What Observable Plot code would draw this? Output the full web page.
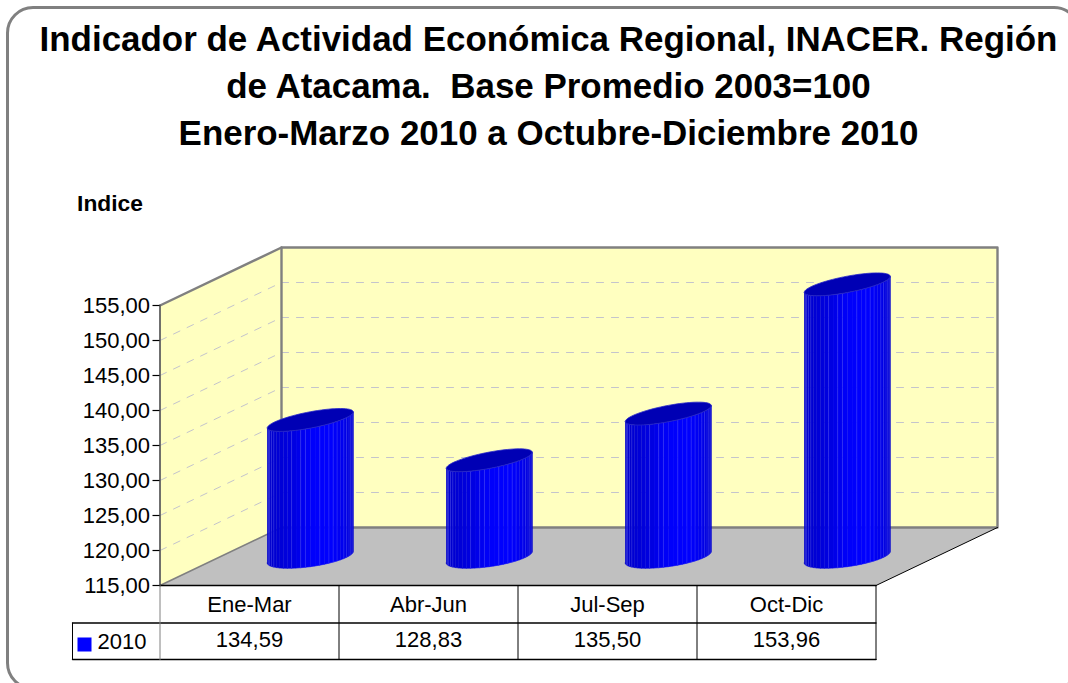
<!DOCTYPE html>
<html>
<head>
<meta charset="utf-8">
<script src="https://cdn.jsdelivr.net/npm/d3@7"></script>
<script src="https://cdn.jsdelivr.net/npm/@observablehq/plot@0.6"></script>
<style>
html,body{margin:0;padding:0;background:#fff;width:1068px;height:683px;overflow:hidden}
body{position:relative;font-family:"Liberation Sans",Arial,sans-serif}
#frame{position:absolute;left:6px;top:6px;width:1075px;height:684px;border:3px solid #808080;border-radius:27px;box-sizing:border-box}
#title{position:relative;height:176px;box-sizing:border-box;padding-top:14.5px;margin:0;width:1097px;text-align:center;font-size:34.95px;line-height:47px;font-weight:bold;color:#000;white-space:pre}
#chart{position:relative;display:block}
svg{display:block}
</style>
</head>
<body>
<div id="frame"></div>
<h1 id="title">Indicador de Actividad Económica Regional, INACER. Región
de Atacama.  Base Promedio 2003=100
Enero-Marzo 2010 a Octubre-Diciembre 2010</h1>
<div id="chart"></div>
<script>
const categories = ["Ene-Mar", "Abr-Jun", "Jul-Sep", "Oct-Dic"];
const values2010 = [134.59, 128.83, 135.50, 153.96];
const seriesName = "2010";
const yTicks = [115, 120, 125, 130, 135, 140, 145, 150, 155];
const gridTicks = [120, 125, 130, 135, 140, 145, 150];
const yAxisTitle = "Indice";

const fmt = v => v.toFixed(2).replace(".", ",");
const yMin = 115, yMax = 155, xMax = categories.length;

// depth of the 3D box and cylinder proportions, in scale units
const depthX = 121.5 / 179, depthY = 58 / 7;
const radiusX = 43 / 179;
const uy = 1 / 7; // one pixel on the y scale
const row1 = yMin - 37.5 * uy, row2 = yMin - 74 * uy;
const legendLeft = -87.5 / 179;

const poly = (pts, o) => Plot.line(pts, {x: d => d[0], y: d => d[1], curve: "linear", stroke: "none", ...o});
const back = ([x, y]) => [x + depthX, y + depthY];

// cylinder surfaces
const N = 28;
function ellipsePoint(i, v, t, top) {
  const cx = i + 0.5 + depthX / 2;
  const cy = v + depthY * 0.49;
  const a = (top ? 8 : 5.8) * uy, b = (top ? 8.2 : 9.6) * uy;
  return [cx + radiusX * Math.cos(t), cy + a * Math.cos(t) + b * Math.sin(t)];
}
function shade(u) { // u = 0 left edge, 1 right edge
  const stops = [[0, 200], [0.12, 212], [0.3, 225], [0.5, 250], [0.72, 255], [0.88, 238], [1, 205]];
  for (let k = 1; k < stops.length; k++) if (u <= stops[k][0]) {
    const f = (u - stops[k-1][0]) / (stops[k][0] - stops[k-1][0]);
    return `rgb(0,0,${Math.round(stops[k-1][1] + f * (stops[k][1] - stops[k-1][1]))})`;
  }
  return "rgb(0,0,205)";
}
const tAt = k => Math.PI + (k / N) * Math.PI;
const stripeIdx = [2, 3, 4, 5, 10, 12, 13, 16, 18, 19, 20, 22, 23, 24, 25, 26];

const cylinderMarks = values2010.flatMap((v, i) => {
  const m = [];
  for (let k = 0; k < N; k++) {
    const t0 = tAt(k), t1 = tAt(k + 1);
    const x0 = ellipsePoint(i, v, t0, true)[0], x1 = ellipsePoint(i, v, t1, true)[0];
    const u = ((x0 + x1) / 2 - (i + 0.5 + depthX / 2 - radiusX)) / (2 * radiusX);
    const c = shade(u);
    m.push(poly([
      ellipsePoint(i, yMin, t0, false), ellipsePoint(i, yMin, t1, false),
      ellipsePoint(i, v, t1, true), ellipsePoint(i, v, t0, true)
    ], {fill: c, stroke: c, strokeWidth: 0.6}));
  }
  for (const k of stripeIdx) {
    m.push(poly([ellipsePoint(i, yMin, tAt(k), false), ellipsePoint(i, v, tAt(k), true)],
      {stroke: "#5a5aff", strokeOpacity: 0.4, strokeWidth: 0.8}));
  }
  const lid = d3.range(0, 73).map(j => ellipsePoint(i, v, j / 72 * 2 * Math.PI, true));
  m.push(poly(lid, {fill: "#0000b4", stroke: "#2a2ac8", strokeWidth: 0.8}));
  return m;
});

const floorPts = [[0, yMin], [xMax, yMin], back([xMax, yMin]), back([0, yMin]), [0, yMin]];
const leftWall = [[0, yMin], back([0, yMin]), back([0, yMax]), [0, yMax], [0, yMin]];
const backWall = [back([0, yMin]), back([xMax, yMin]), back([xMax, yMax]), back([0, yMax]), back([0, yMin])];
const dash = {stroke: "#c4c4cc", strokeWidth: 1, strokeDasharray: "7,8"};
const gray = {stroke: "#808080", strokeWidth: 2.4};
const black = {stroke: "#000", strokeWidth: 1.4};
const txt = {fontSize: 22, fill: "#000", textAnchor: "middle", fontFamily: "Liberation Sans"};
const catIdx = categories.map((_, i) => i);
const tableVerts = d3.range(1, xMax + 1);

const plot = Plot.plot({
  width: 1068,
  height: 507,
  marginLeft: 159.5, marginRight: 192.5,
  marginTop: 129, marginBottom: 98,
  x: {domain: [0, xMax], axis: null},
  y: {domain: [yMin, yMax], axis: null},
  style: {fontFamily: "Liberation Sans", background: "transparent", overflow: "visible"},
  marks: [
    poly(leftWall, {fill: "#ffffc0"}),
    poly(backWall, {fill: "#ffffc0"}),
    ...gridTicks.map(g => poly([[0, g], back([0, g])], dash)),
    ...gridTicks.map(g => poly([back([0, g]), back([xMax, g])], dash)),
    poly(floorPts, {fill: "#c0c0c0"}),
    poly(backWall, gray),
    poly([[0, yMax], back([0, yMax])], gray),
    poly([[0, yMin], back([0, yMin])], {stroke: "#808080", strokeWidth: 1.6}),
    poly([[xMax, yMin], back([xMax, yMin])], {stroke: "#000", strokeWidth: 1}),
    poly([[0, yMin], [0, yMax]], {stroke: "#606060", strokeWidth: 1.8}),
    ...cylinderMarks,
    // table
    poly([[0, yMin], [xMax, yMin]], black),
    poly([[legendLeft, row1], [xMax, row1]], black),
    poly([[legendLeft, row2], [xMax, row2]], black),
    poly([[legendLeft, row1], [legendLeft, row2]], {stroke: "#000", strokeWidth: 1}),
    poly([[0, yMin], [0, row2]], {stroke: "#808080", strokeWidth: 1}),
    ...tableVerts.map(i => poly([[i, yMin], [i, row2]], {stroke: "#000", strokeWidth: 1})),
    Plot.rect([0], {x1: -82 / 179, x2: -68 / 179, y1: yMin - 52.5 * uy, y2: yMin - 66.5 * uy, fill: "#0000ff"}),
    Plot.text(catIdx, {x: i => i + 0.5, y: () => (yMin + row1) / 2 - 0.1, text: i => categories[i], ...txt}),
    Plot.text(catIdx, {x: i => i + 0.5, y: () => (row1 + row2) / 2 + 0.15, text: i => fmt(values2010[i]), ...txt}),
    Plot.text([seriesName], {x: -38 / 179, y: (row1 + row2) / 2 - 0.05, text: d => d, ...txt}),
    Plot.text([yAxisTitle], {x: -50 / 179, y: yMin + 381.5 * uy, text: d => d, ...txt, fontSize: 22.8, fontWeight: "bold"}),
    Plot.axisY(yTicks, {
      anchor: "left", tickSize: 7, tickPadding: 3, tickFormat: fmt, label: null,
      stroke: "#000", fill: "#000", fontSize: 22, strokeWidth: 1.2
    })
  ]
});
document.getElementById("chart").appendChild(plot);
</script>
</body>
</html>
